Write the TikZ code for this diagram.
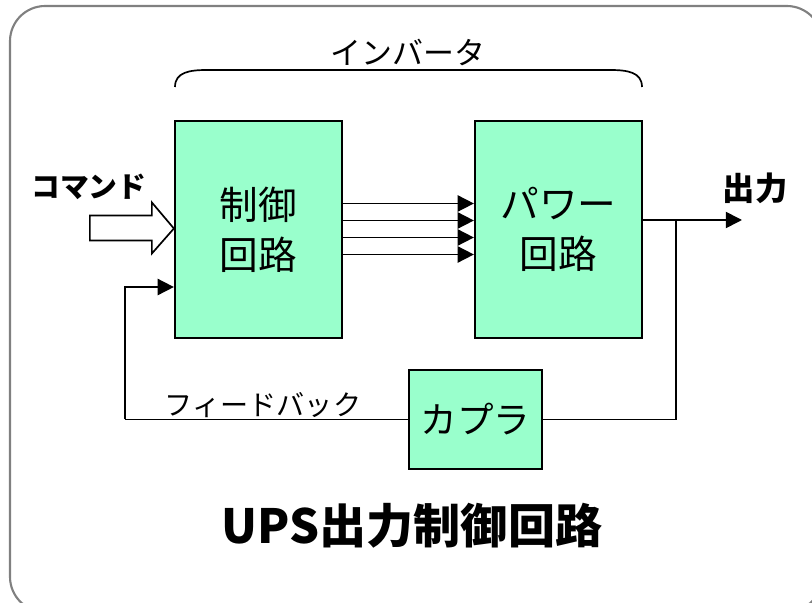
\documentclass[tikz,border=0pt]{standalone}
\usepackage{fontspec}
\setmainfont{Noto Sans CJK JP}
\usepackage{tikz}
\usetikzlibrary{arrows.meta}
\definecolor{mint}{RGB}{153,255,204}
\definecolor{framegray}{RGB}{128,128,128}

\begin{document}
\begin{tikzpicture}[x=0.025cm,y=-0.025cm,
  block/.style={draw=black, line width=1.4pt, fill=mint, align=center, inner sep=0pt},
  wire/.style={line width=1.2pt},
  arr/.style={wire, -{Triangle[length=11.5pt,width=11.5pt]}}]

% Picture size
\useasboundingbox (0,0) rectangle (812,603);
\clip (0,0) rectangle (812,603);

% Outer frame
\draw[framegray, line width=1.5pt, rounded corners=25pt] (10,6) rectangle (822,612);

% Blocks
\node[block, minimum width=4.18cm, minimum height=5.43cm, font=\fontsize{27.5}{35.5}\selectfont] (ctrl) at (258.5,229.5) {制御\\回路};
\node[block, minimum width=4.18cm, minimum height=5.43cm, font=\fontsize{27.5}{35.5}\selectfont] (power) at (558.5,229.5) {パワー\\回路};
\node[block, minimum width=3.33cm, minimum height=2.48cm, font=\fontsize{26}{30}\selectfont] (coupler) at (475.5,419.5) {カプラ};

% Inverter bracket
\draw[wire] (175,87) .. controls (175,72) and (190,70) .. (207,70) -- (610,70) .. controls (627,70) and (642,72) .. (642,87);
\node[font=\fontsize{22}{26}\selectfont] (inv) at (408,53) {インバータ};

% Command input (hollow arrow)
\draw[line width=1.2pt, fill=white] ([yshift=0.025cm]ctrl.west) -- ++(-22,-26) -- ++(0,13) -- ++(-62,0) -- ++(0,25) -- ++(62,0) -- ++(0,13) -- cycle;
\node[font=\bfseries\fontsize{20.5}{24}\selectfont] (cmd) at (89,187) {コマンド};

% Control lines to power circuit
\foreach \dy in {0.65,0.225,-0.2,-0.625}
  \draw[arr] ([yshift=\dy cm]ctrl.east) -- ([yshift=\dy cm]power.west);

% Output
\coordinate (jn) at (676,220);
\coordinate (out) at (742,220);
\draw[wire] ([yshift=0.2375cm]power.east) -- (jn);
\draw[arr] (jn) -- (out);
\node[font=\bfseries\fontsize{23}{27}\selectfont] (outlbl) at (755,188) {出力};

% Feedback loop
\coordinate (fb) at (125,419.5);
\draw[wire] (jn) |- (coupler.east);
\draw[wire] (coupler.west) -- (fb);
\draw[arr] (fb) |- ([yshift=-1.4375cm]ctrl.west);
\node[font=\fontsize{20}{24}\selectfont] (fblbl) at (263,405) {フィードバック};

% Title
\node[font=\bfseries\fontsize{33.5}{40}\selectfont] (title) at (412,526) {UPS出力制御回路};

\end{tikzpicture}
\end{document}
